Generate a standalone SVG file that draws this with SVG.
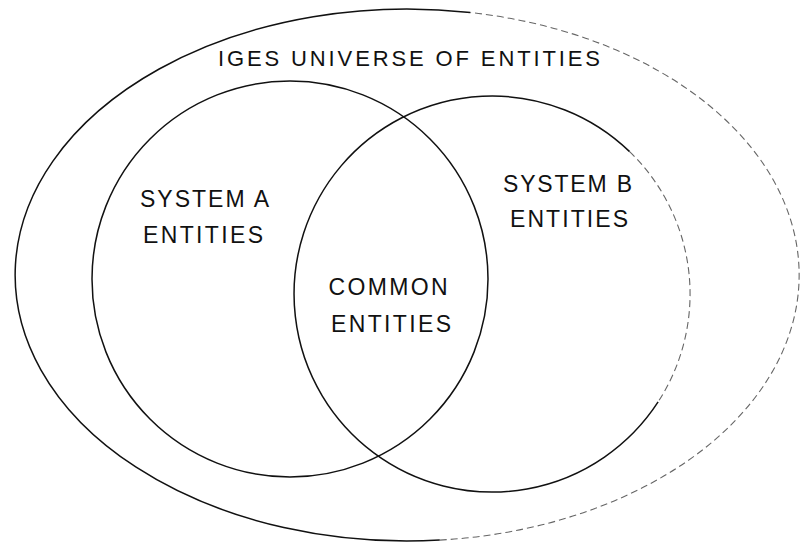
<svg xmlns="http://www.w3.org/2000/svg" width="805" height="552" viewBox="0 0 805 552">
  <style>
    .line { fill: none; stroke: #111; stroke-width: 1.5; }
    .faint { fill: none; stroke: #666; stroke-width: 1.1; stroke-dasharray: 7 4; }
    .lbl { font-family: "Liberation Sans", Arial, sans-serif; font-size: 23px; fill: #111; text-anchor: middle; }
  </style>
  <rect width="805" height="552" fill="#fff"/>
  <g id="universe">
    <path class="line" d="M 470.3 12.5 A 392 266 0 1 0 439.8 540.1"/>
    <path class="faint" d="M 439.8 540.1 A 392 266 0 0 0 470.3 12.5"/>
    <text class="lbl" x="409" y="66" style="font-size:22px" textLength="382" lengthAdjust="spacing">IGES UNIVERSE OF ENTITIES</text>
  </g>
  <g id="system-a">
    <circle class="line" cx="290" cy="279" r="198"/>
    <text class="lbl" x="204.5" y="207" textLength="129" lengthAdjust="spacing">SYSTEM A</text>
    <text class="lbl" x="203" y="243" textLength="120" lengthAdjust="spacing">ENTITIES</text>
  </g>
  <g id="system-b">
    <path class="line" d="M 658.1 401.9 A 198 198 0 1 1 629.6 151.6"/>
    <path class="faint" d="M 629.6 151.6 A 198 198 0 0 1 658.1 401.9"/>
    <text class="lbl" x="567.5" y="192" textLength="129" lengthAdjust="spacing">SYSTEM B</text>
    <text class="lbl" x="569" y="227" textLength="118" lengthAdjust="spacing">ENTITIES</text>
  </g>
  <g id="common">
    <text class="lbl" x="388" y="295" textLength="119" lengthAdjust="spacing">COMMON</text>
    <text class="lbl" x="391" y="332" textLength="120" lengthAdjust="spacing">ENTITIES</text>
  </g>
  <g id="connectors"/>
</svg>
